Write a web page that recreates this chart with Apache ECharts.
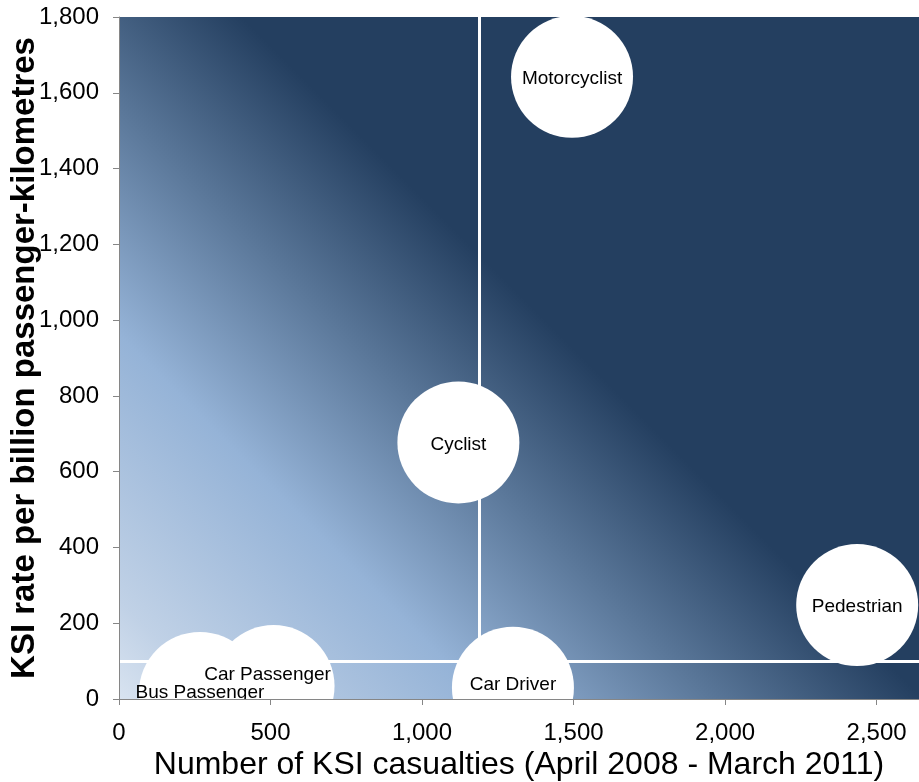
<!DOCTYPE html>
<html>
<head>
<meta charset="utf-8">
<script src="https://cdn.jsdelivr.net/npm/echarts@6/dist/echarts.min.js"></script>
<style>
  html, body { margin: 0; padding: 0; background: #fff; }
  #chart { width: 919px; height: 782px; }
</style>
</head>
<body>
<div id="chart"></div>
<script>
// ======================
// DATA
// ======================
const modes = ['Bus Passenger', 'Car Passenger', 'Car Driver', 'Cyclist', 'Motorcyclist', 'Pedestrian'];
const casualties = [267, 510, 1300, 1120, 1495, 2436];
const ksiRate = [16, 34, 30, 677, 1642, 248];
const labelOffsets = [[0, 0], [-6, -11], [0, -3], [0, 2], [0, 2], [0, 2]];

const avgCasualties = 1188;
const avgRate = 100;

const xTicks = [0, 500, 1000, 1500, 2000, 2500];
const xMax = 2640;
const yMax = 1800;

const FONT = 'Liberation Sans, Arial, sans-serif';
const fmt = v => v.toLocaleString('en-US');

// ======================
// CHART
// ======================
const chart = echarts.init(document.getElementById('chart'));

chart.setOption({
    animation: false,
    grid: {
        left: 119,
        top: 17,
        right: 0,
        bottom: 83,
        containLabel: false,
        outerBoundsMode: 'none',
        show: true,
        borderWidth: 0,
        // 45deg gradient, light at bottom-left, navy towards top-right
        backgroundColor: {
            type: 'linear',
            global: true,
            x: 119, y: 699, x2: 860, y2: -42,
            colorStops: [
                { offset: 0, color: '#d8e3f0' },
                { offset: 0.067, color: '#c0d1e6' },
                { offset: 0.246, color: '#95b3d7' },
                { offset: 0.40, color: '#5a7799' },
                { offset: 0.543, color: '#243f60' },
                { offset: 1, color: '#243f60' }
            ]
        }
    },
    graphic: [{
        // hides bubble parts that fall below the plot area
        type: 'rect',
        shape: { x: 0, y: 700, width: 919, height: 82 },
        style: { fill: '#fff' },
        z: 10
    }],
    xAxis: {
        type: 'value',
        min: 0,
        max: xMax,
        interval: 500,
        z: 20,
        name: 'Number of KSI casualties (April 2008 - March 2011)',
        nameLocation: 'middle',
        nameGap: 50,
        nameMoveOverlap: false,
        nameTextStyle: { fontFamily: FONT, fontSize: 32, color: '#000' },
        axisLine: { lineStyle: { color: '#868686', width: 1 } },
        axisTick: { show: true, length: 6, lineStyle: { color: '#868686' } },
        axisLabel: {
            fontFamily: FONT,
            fontSize: 24,
            color: '#000',
            margin: 22,
            showMaxLabel: false,
            formatter: v => xTicks.includes(v) ? fmt(v) : ''
        },
        splitLine: { show: false }
    },
    yAxis: {
        type: 'value',
        min: 0,
        max: yMax,
        interval: 200,
        z: 20,
        name: 'KSI rate per billion passenger-kilometres',
        nameLocation: 'middle',
        nameRotate: 90,
        nameGap: 78,
        nameMoveOverlap: false,
        nameTextStyle: { fontFamily: FONT, fontSize: 33, fontWeight: 'bold', color: '#000' },
        axisLine: { show: true, lineStyle: { color: '#868686', width: 1 } },
        axisTick: { show: true, length: 6, lineStyle: { color: '#868686' } },
        axisLabel: {
            fontFamily: FONT,
            fontSize: 24,
            color: '#000',
            margin: 20,
            formatter: v => fmt(v)
        },
        splitLine: { show: false }
    },
    series: [
        {
            // quadrant divider lines, kept beneath the bubbles
            type: 'scatter',
            data: [],
            z: 1,
            markLine: {
                silent: true,
                z: 1,
                symbol: 'none',
                label: { show: false },
                lineStyle: { color: '#ffffff', width: 3, type: 'solid', opacity: 1 },
                emphasis: { disabled: true },
                data: [
                    { xAxis: avgCasualties },
                    { yAxis: avgRate }
                ]
            }
        },
        {
            type: 'scatter',
            z: 3,
            symbol: 'circle',
            symbolSize: 122,
            itemStyle: { color: '#ffffff', opacity: 1 },
            label: {
                show: true,
                position: 'inside',
                fontFamily: FONT,
                fontSize: 19,
                color: '#000',
                formatter: p => p.data.name
            },
            data: modes.map((name, i) => ({
                name: name,
                value: [casualties[i], ksiRate[i]],
                label: { offset: labelOffsets[i] }
            }))
        }
    ]
});
</script>
</body>
</html>
